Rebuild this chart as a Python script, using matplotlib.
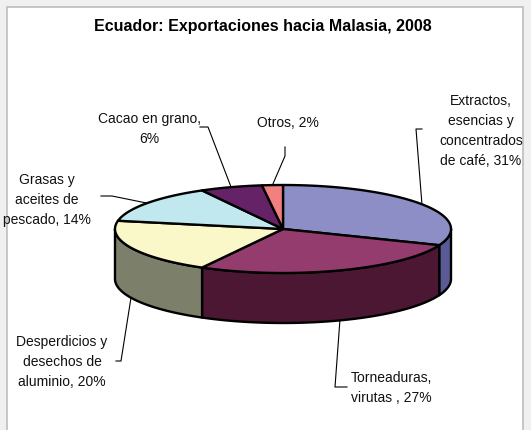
import matplotlib
matplotlib.use("Agg")
import matplotlib.pyplot as plt
from matplotlib.patches import Polygon, Rectangle
import numpy as np

title = "Ecuador: Exportaciones hacia Malasia, 2008"
labels = ["Extractos,\nesencias y\nconcentrados\nde café, 31%",
          "Torneaduras,\nvirutas , 27%",
          "Desperdicios y\ndesechos de\naluminio, 20%",
          "Grasas y\naceites de\npescado, 14%",
          "Cacao en grano,\n6%",
          "Otros, 2%"]
values = [31, 27, 20, 14, 6, 2]
top_colors = ["#8E8EC6", "#943C6E", "#FAF7C8", "#C2E8EF", "#662266", "#F28080"]
side_colors = ["#5A5A96", "#4C1733", "#7C7F6A", "#7FA3A8", "#3A1040", "#A05050"]

# layout (pixels)
cx, cy, rx, ry, depth = 283, 229, 168, 44, 50
text_pos = [(481, 131), (391, 388), (62, 362), (47, 200), (149, 129), (288, 123)]
elbows = [[(416, 129), (422, 129)],
          [(335, 387), (347, 387)],
          [(121, 361), (116, 361)],
          [(112, 196), (101, 196)],
          [(208, 127), (200, 127)],
          [(285, 156), (285, 147)]]

plt.rcParams['font.family'] = ['Liberation Sans', 'DejaVu Sans']

fig = plt.figure(figsize=(5.31, 4.30), dpi=100)
fig.patch.set_facecolor("#F0F0F0")
ax = fig.add_axes([0, 0, 1, 1])
ax.set_xlim(0, 531)
ax.set_ylim(430, 0)
ax.axis("off")

ax.add_patch(Rectangle((7, 7), 516, 430, facecolor="white", edgecolor="#BDBDBD", lw=1.2))

def pt(theta, dy=0):
    return cx + rx * np.cos(np.radians(theta)), cy - ry * np.sin(np.radians(theta)) + dy

# angles, clockwise from 12 o'clock
fr = np.array(values) / sum(values)
ends = 90 - 360 * np.cumsum(fr)
starts = np.concatenate([[90], ends[:-1]])

# side walls (front half: theta in [-180, 0])
for s, e, c in zip(starts, ends, side_colors):
    a0, a1 = max(e, -180), min(s, 0)
    if a1 <= a0:
        continue
    th = np.linspace(a0, a1, 80)
    top = [pt(t) for t in th]
    bot = [pt(t, depth) for t in th[::-1]]
    ax.add_patch(Polygon(top + bot, closed=True, facecolor=c, edgecolor="black", lw=1.7, joinstyle="round"))

# top faces
for s, e, c in zip(starts, ends, top_colors):
    th = np.linspace(s, e, 120)
    verts = [(cx, cy)] + [pt(t) for t in th]
    ax.add_patch(Polygon(verts, closed=True, facecolor=c, edgecolor="black", lw=1.7, joinstyle="round"))

# labels and leaders
for lab, s, e, tp, el in zip(labels, starts, ends, text_pos, elbows):
    mid = (s + e) / 2
    front = -180 < mid < 0
    anchor = pt(mid, depth if front else 0)
    xs = [anchor[0]] + [p[0] for p in el]
    ys = [anchor[1]] + [p[1] for p in el]
    ax.plot(xs, ys, color="black", lw=0.8)
    ax.text(tp[0], tp[1], lab, ha="center", va="center", multialignment="center",
            fontsize=10, linespacing=1.55, color="#111111")

ax.text(263, 27, title, ha="center", va="center", fontsize=11.5, fontweight="bold")

fig.savefig("out.png", dpi=100, facecolor=fig.get_facecolor())
